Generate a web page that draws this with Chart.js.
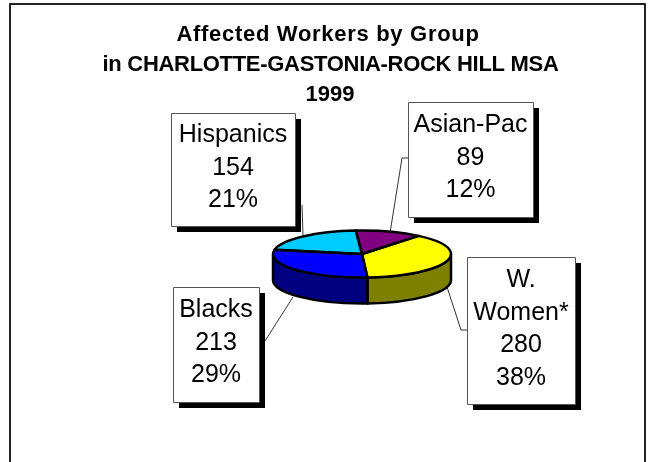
<!DOCTYPE html>
<html>
<head>
<meta charset="utf-8">
<style>
    html, body { margin: 0; padding: 0; background: #fff; }
    #wrap { position: absolute; left: 0; top: 0; width: 649px; height: 462px; }
</style>
<script src="https://cdn.jsdelivr.net/npm/chart.js@4"></script>
</head>
<body>
<div id="wrap"><canvas id="chart"></canvas></div>
<script>
const titleLines = ["Affected Workers by Group", "in CHARLOTTE-GASTONIA-ROCK HILL MSA", "1999"];
const titleSpacing = ["0.7px", "-0.3px", "0px"];
const titleCenters = [328, 330.5, 330];
const groups = ["Asian-Pac", "W. Women*", "Blacks", "Hispanics"];
const workers = [89, 280, 213, 154];
const percents = ["12%", "38%", "29%", "21%"];
const topColors = ["#800080", "#ffff00", "#0000ff", "#00ccff"];
const sideColors = ["#400040", "#808000", "#000080", "#006680"];

// label boxes: left, top, right, bottom
const boxes = [
    [408, 102, 533, 217],
    [467, 257, 575, 404],
    [173, 287, 259, 402],
    [171, 113, 295, 226]
];
// text lines per box
const boxLines = [
    [groups[0], workers[0], percents[0]],
    ["W.", "Women*", workers[1], percents[1]],
    [groups[2], workers[2], percents[2]],
    [groups[3], workers[3], percents[3]]
];
const leaders = [
    [[408, 158], [402, 158], [390, 233]],
    [[467, 330], [461, 330], [447, 287]],
    [[265, 341], [293, 297]],
    [[302, 205], [303, 235]]
];

const squash = 23.5 / 89;
const depth = 26;
const pieX = 362;
const pieY = 254;

// squashes the pie and draws the wall under it
const pie3d = {
    id: "pie3d",
    beforeDatasetsDraw(chart) {
        const ctx = chart.ctx;
        const arcs = chart.getDatasetMeta(0).data;
        const cx = arcs[0].x;
        const cy = arcs[0].y;
        const r = arcs[0].outerRadius;

        // leader lines sit under the pie and the boxes
        ctx.save();
        ctx.strokeStyle = "#333";
        ctx.lineWidth = 1;
        leaders.forEach((pts) => {
            ctx.beginPath();
            pts.forEach((p, i) => i ? ctx.lineTo(p[0], p[1]) : ctx.moveTo(p[0], p[1]));
            ctx.stroke();
        });
        ctx.restore();

        // wall, only the part facing us (angle 0..PI in canvas terms)
        arcs.forEach((arc, i) => {
            const a0 = Math.max(arc.startAngle, 0);
            const a1 = Math.min(arc.endAngle, Math.PI);
            if (a1 <= a0) return;
            ctx.save();
            ctx.beginPath();
            ctx.ellipse(cx, cy, r, r * squash, 0, a0, a1);
            ctx.ellipse(cx, cy + depth, r, r * squash, 0, a1, a0, true);
            ctx.closePath();
            ctx.fillStyle = sideColors[i];
            ctx.strokeStyle = "#000";
            ctx.lineWidth = 2.5;
            ctx.lineJoin = "round";
            ctx.fill();
            ctx.stroke();
            ctx.restore();
        });

        ctx.save();
        ctx.translate(cx, cy);
        ctx.scale(1, squash);
        ctx.translate(-cx, -cy);
    },
    afterDatasetsDraw(chart) {
        const ctx = chart.ctx;
        ctx.restore();

        // slice outlines, drawn unscaled so the line stays even
        const arcs = chart.getDatasetMeta(0).data;
        ctx.strokeStyle = "#000";
        ctx.lineWidth = 2.5;
        ctx.lineJoin = "round";
        arcs.forEach((arc) => {
            ctx.beginPath();
            ctx.moveTo(arc.x, arc.y);
            ctx.ellipse(arc.x, arc.y, arc.outerRadius, arc.outerRadius * squash, 0, arc.startAngle, arc.endAngle);
            ctx.closePath();
            ctx.stroke();
        });

        boxes.forEach((b, i) => {
            const w = b[2] - b[0];
            const h = b[3] - b[1];
            ctx.fillStyle = "#000";
            ctx.fillRect(b[0] + 6, b[1] + 6, w, h);
            ctx.fillStyle = "#fff";
            ctx.fillRect(b[0], b[1], w, h);
            ctx.strokeStyle = "#555";
            ctx.lineWidth = 1;
            ctx.strokeRect(b[0] + 0.5, b[1] + 0.5, w, h);

            ctx.fillStyle = "#000";
            ctx.font = "25px 'Liberation Sans', Arial, sans-serif";
            ctx.textAlign = "center";
            ctx.textBaseline = "middle";
            const lines = boxLines[i];
            const lineH = 32.5;
            const top = (b[1] + b[3]) / 2 - 1.5 - (lines.length - 1) * lineH / 2;
            lines.forEach((t, k) => ctx.fillText(String(t), (b[0] + b[2]) / 2, top + k * lineH));
        });

        // title at fixed baselines
        ctx.save();
        ctx.fillStyle = "#000";
        ctx.font = "bold 22px 'Liberation Sans', Arial, sans-serif";
        ctx.textAlign = "center";
        ctx.textBaseline = "alphabetic";
        titleLines.forEach((t, i) => {
            ctx.letterSpacing = titleSpacing[i];
            ctx.fillText(t, titleCenters[i], 41 + i * 30);
        });
        ctx.restore();

        // outer frame, runs off the bottom of the picture
        ctx.strokeStyle = "#222";
        ctx.lineWidth = 2;
        ctx.beginPath();
        ctx.moveTo(10, 470);
        ctx.lineTo(10, 4);
        ctx.lineTo(645, 4);
        ctx.lineTo(645, 470);
        ctx.stroke();
    }
};

new Chart(document.getElementById("chart"), {
    type: "pie",
    plugins: [pie3d],
    data: {
        labels: groups,
        datasets: [{
            data: workers,
            backgroundColor: topColors,
            borderWidth: 0
        }]
    },
    options: {
        responsive: true,
        maintainAspectRatio: false,
        animation: false,
        rotation: -4,
        layout: {
            padding: {
                left: pieX - 89,
                right: 649 - pieX - 89,
                top: pieY - 89,
                bottom: 462 - pieY - 89
            }
        },
        plugins: {
            legend: { display: false },
            tooltip: { enabled: false }
        }
    }
});
</script>
</body>
</html>
